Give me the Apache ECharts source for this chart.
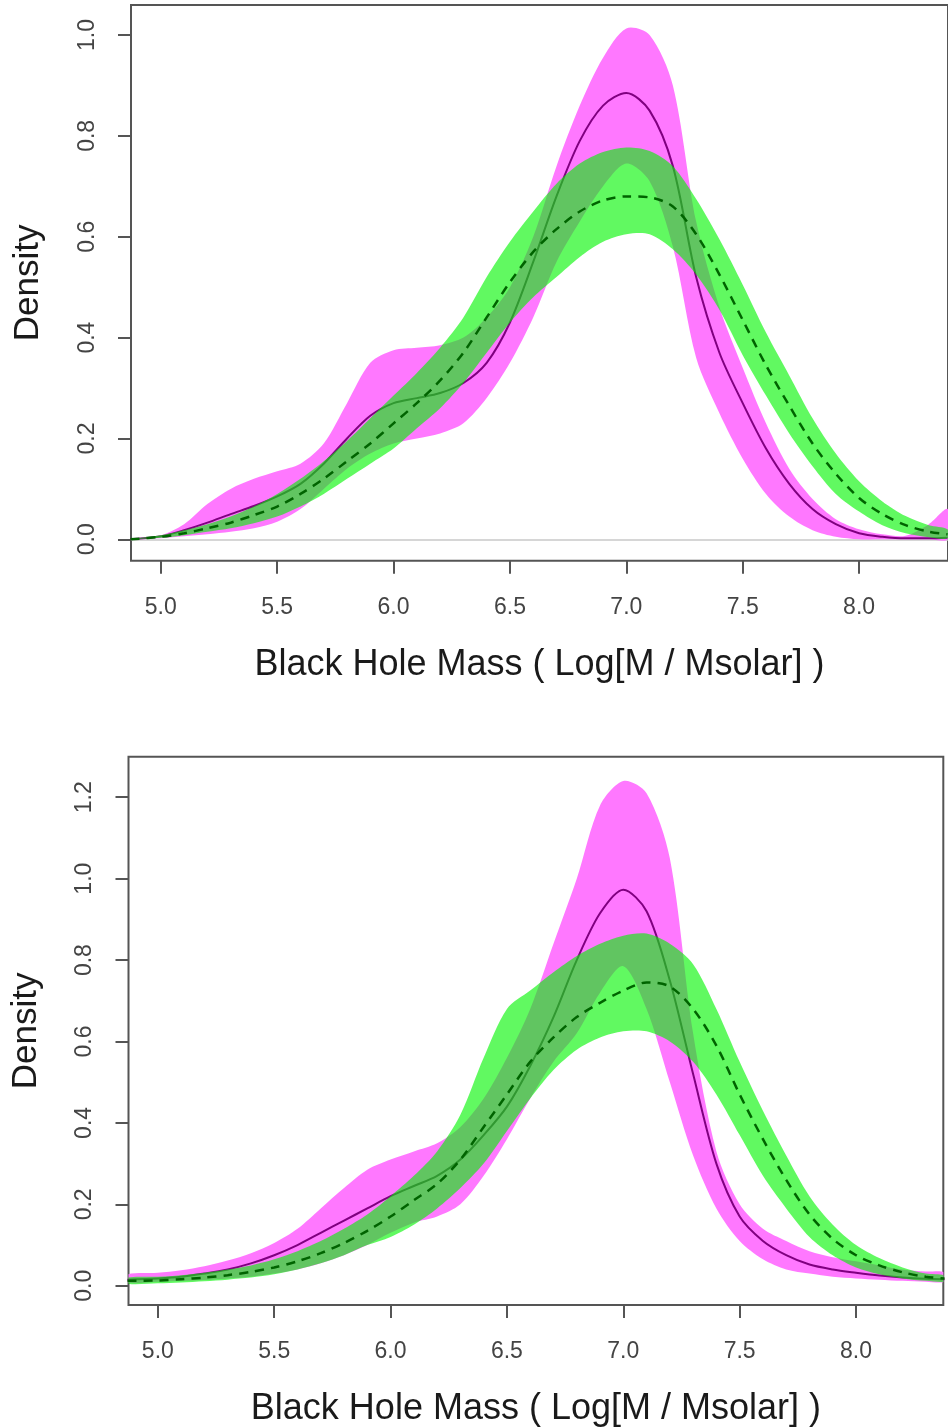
<!DOCTYPE html>
<html>
<head>
<meta charset="utf-8">
<script src="https://cdn.jsdelivr.net/npm/echarts@6/dist/echarts.min.js"></script>
<style>
html,body{margin:0;padding:0;background:#fff;}
#chart{width:948px;height:1428px;}
</style>
</head>
<body>
<div id="chart"></div>
<script>
// ---------- data ----------
const xs = [4.87,5.0,5.1,5.2,5.3,5.4,5.5,5.6,5.7,5.8,5.9,6.0,6.1,6.2,6.3,6.4,6.5,6.6,6.7,6.8,6.9,7.0,7.1,7.2,7.3,7.4,7.5,7.6,7.7,7.8,7.9,8.0,8.1,8.2,8.3,8.38];

// top panel
const topPurpleMean  = [0.0,0.006,0.018,0.033,0.05,0.066,0.085,0.11,0.15,0.2,0.245,0.27,0.28,0.29,0.31,0.35,0.43,0.55,0.68,0.79,0.86,0.885,0.85,0.74,0.52,0.37,0.27,0.18,0.11,0.06,0.03,0.012,0.005,0.002,0.002,0.003];
const topPurpleUpper = [0.0,0.008,0.03,0.07,0.1,0.12,0.135,0.15,0.19,0.27,0.35,0.375,0.38,0.385,0.4,0.44,0.5,0.6,0.74,0.86,0.955,1.013,1.0,0.9,0.63,0.46,0.34,0.23,0.14,0.08,0.04,0.02,0.01,0.007,0.03,0.06];
const topPurpleLower = [0.0,0.002,0.006,0.01,0.015,0.022,0.035,0.06,0.1,0.14,0.17,0.19,0.2,0.21,0.23,0.28,0.35,0.44,0.55,0.63,0.70,0.745,0.71,0.58,0.36,0.25,0.16,0.09,0.045,0.018,0.005,0.0,0.0,0.0,0.0,0.0];
const topGreenLower  = [0.0,0.003,0.008,0.015,0.022,0.032,0.045,0.065,0.09,0.12,0.15,0.18,0.22,0.26,0.31,0.37,0.43,0.48,0.52,0.56,0.59,0.605,0.605,0.575,0.525,0.455,0.365,0.285,0.21,0.145,0.09,0.055,0.028,0.012,0.004,0.002];
const topGreenMean   = [0.0,0.005,0.012,0.022,0.033,0.048,0.065,0.09,0.12,0.155,0.19,0.23,0.27,0.315,0.37,0.44,0.51,0.57,0.615,0.65,0.672,0.68,0.678,0.66,0.605,0.525,0.435,0.345,0.265,0.19,0.13,0.082,0.05,0.028,0.015,0.01];
const topGreenUpper  = [0.0,0.008,0.018,0.03,0.045,0.065,0.09,0.12,0.155,0.195,0.24,0.285,0.33,0.38,0.44,0.52,0.59,0.65,0.705,0.745,0.768,0.777,0.77,0.74,0.675,0.595,0.505,0.41,0.325,0.24,0.17,0.115,0.075,0.046,0.028,0.02];

// bottom panel
const botPurpleMean  = [0.015,0.018,0.022,0.03,0.04,0.055,0.075,0.1,0.13,0.16,0.19,0.22,0.245,0.27,0.31,0.37,0.44,0.54,0.66,0.80,0.915,0.973,0.92,0.75,0.52,0.30,0.17,0.11,0.075,0.052,0.04,0.032,0.025,0.02,0.017,0.016];
const botPurpleUpper = [0.028,0.032,0.038,0.048,0.062,0.08,0.105,0.14,0.19,0.24,0.285,0.31,0.33,0.35,0.39,0.46,0.56,0.68,0.84,1.0,1.18,1.24,1.21,1.05,0.62,0.33,0.2,0.14,0.11,0.085,0.07,0.06,0.05,0.04,0.035,0.033];
const botPurpleLower = [0.008,0.01,0.012,0.014,0.018,0.022,0.03,0.04,0.055,0.075,0.1,0.13,0.155,0.17,0.2,0.27,0.36,0.46,0.55,0.62,0.72,0.785,0.68,0.5,0.32,0.19,0.11,0.065,0.04,0.03,0.022,0.018,0.015,0.012,0.01,0.01];
const botGreenLower  = [0.005,0.006,0.008,0.011,0.015,0.02,0.028,0.04,0.055,0.075,0.1,0.12,0.15,0.19,0.24,0.3,0.38,0.46,0.53,0.58,0.61,0.625,0.625,0.6,0.55,0.47,0.37,0.27,0.19,0.12,0.075,0.045,0.028,0.018,0.012,0.01];
const botGreenMean   = [0.012,0.013,0.016,0.02,0.026,0.034,0.045,0.06,0.08,0.105,0.135,0.17,0.21,0.25,0.31,0.39,0.47,0.55,0.61,0.66,0.695,0.725,0.745,0.735,0.68,0.59,0.47,0.36,0.26,0.175,0.115,0.075,0.05,0.033,0.022,0.018];
const botGreenUpper  = [0.02,0.022,0.026,0.032,0.04,0.05,0.065,0.085,0.11,0.14,0.175,0.22,0.27,0.33,0.42,0.56,0.68,0.725,0.77,0.81,0.84,0.86,0.865,0.84,0.79,0.68,0.55,0.43,0.32,0.22,0.15,0.1,0.068,0.045,0.03,0.025];

// ticks
const xTicks = [5.0,5.5,6.0,6.5,7.0,7.5,8.0];
const yTicksTop = [0.0,0.2,0.4,0.6,0.8,1.0];
const yTicksBot = [0.0,0.2,0.4,0.6,0.8,1.0,1.2];
const xTitle = 'Black Hole Mass ( Log[M / Msolar] )';
const yTitle = 'Density';

// ---------- styles ----------
const FONT = "'Liberation Sans', Arial, sans-serif";
const MAGENTA = '#ff78ff';
const GREEN = 'rgba(0,245,0,0.62)';
const PURPLE = '#800080';
const DKGREEN = '#006400';

function pairs(a, b) { return a.map((v, i) => [v, b[i]]); }

function band(idx, lo, hi, color, z) {
  return {
    type: 'custom', xAxisIndex: idx, yAxisIndex: idx, z: z, silent: true,
    data: xs.map((x, i) => [x, lo[i], hi[i]]),
    encode: { x: 0, y: [1, 2] },
    renderItem: function (params, api) {
      if (params.dataIndex !== 0) return null;
      const pts = [];
      for (let i = 0; i < xs.length; i++) pts.push(api.coord([xs[i], hi[i]]));
      for (let i = xs.length - 1; i >= 0; i--) pts.push(api.coord([xs[i], lo[i]]));
      const cs = params.coordSys;
      return {
        type: 'polygon',
        shape: { points: pts, smooth: 0.3 },
        style: { fill: color, stroke: null },
        clipPath: { type: 'rect', shape: { x: cs.x, y: cs.y, width: cs.width, height: cs.height } }
      };
    }
  };
}

function line(idx, ys, color, width, type, z) {
  return {
    type: 'line', xAxisIndex: idx, yAxisIndex: idx, z: z, silent: true,
    data: pairs(xs, ys), showSymbol: false, symbol: 'none', smooth: 0.3,
    clip: true,
    lineStyle: { color: color, width: width, type: type }
  };
}

function xAxis(idx, min, max) {
  return {
    type: 'value', gridIndex: idx, min: min, max: max, position: 'bottom',
    axisLine: { show: false, onZero: false },
    splitLine: { show: false },
    axisTick: { show: true, inside: false, length: 13, customValues: xTicks, lineStyle: { color: '#555', width: 2 } },
    axisLabel: { customValues: xTicks, formatter: v => v.toFixed(1), margin: 35, fontSize: 23, color: '#444', fontFamily: FONT },
    name: xTitle, nameLocation: 'middle', nameGap: 86,
    nameTextStyle: { fontSize: 36, color: '#1a1a1a', fontFamily: FONT }
  };
}

function yAxis(idx, min, max, ticks) {
  return {
    type: 'value', gridIndex: idx, min: min, max: max, position: 'left',
    axisLine: { show: false, onZero: false },
    splitLine: { show: false },
    axisTick: { show: true, inside: false, length: 13, customValues: ticks, lineStyle: { color: '#555', width: 2 } },
    axisLabel: { customValues: ticks, formatter: v => v.toFixed(1), rotate: 90, margin: 32, fontSize: 23, color: '#444', fontFamily: FONT },
    name: yTitle, nameLocation: 'middle', nameGap: 85,
    nameTextStyle: { fontSize: 35, color: '#1a1a1a', fontFamily: FONT }
  };
}

const topBandMagenta = band(0, topPurpleLower, topPurpleUpper, MAGENTA, 2);
topBandMagenta.markLine = {
  silent: true, symbol: 'none', z: 1, label: { show: false },
  lineStyle: { color: '#c8c8c8', width: 1.5, type: 'solid' },
  data: [{ yAxis: 0 }]
};

const option = {
  backgroundColor: '#fff',
  animation: false,
  grid: [
    { left: 131, top: 5, width: 824.5, height: 555.7, show: true, borderColor: '#555', borderWidth: 2, backgroundColor: 'transparent' },
    { left: 128.5, top: 756.7, width: 814.8, height: 549.3, show: true, borderColor: '#555', borderWidth: 2, backgroundColor: 'transparent' }
  ],
  xAxis: [ xAxis(0, 4.872, 8.382), xAxis(1, 4.874, 8.375) ],
  yAxis: [ yAxis(0, -0.0424, 1.0595, yTicksTop), yAxis(1, -0.0473, 1.2996, yTicksBot) ],
  series: [
    topBandMagenta,
    line(0, topPurpleMean, PURPLE, 2, 'solid', 3),
    band(0, topGreenLower, topGreenUpper, GREEN, 4),
    line(0, topGreenMean, DKGREEN, 2.5, [9, 7], 5),
    band(1, botPurpleLower, botPurpleUpper, MAGENTA, 2),
    line(1, botPurpleMean, PURPLE, 2, 'solid', 3),
    band(1, botGreenLower, botGreenUpper, GREEN, 4),
    line(1, botGreenMean, DKGREEN, 2.5, [9, 7], 5)
  ]
};

const chart = echarts.init(document.getElementById('chart'), null, { renderer: 'canvas' });
chart.setOption(option);
</script>
</body>
</html>
